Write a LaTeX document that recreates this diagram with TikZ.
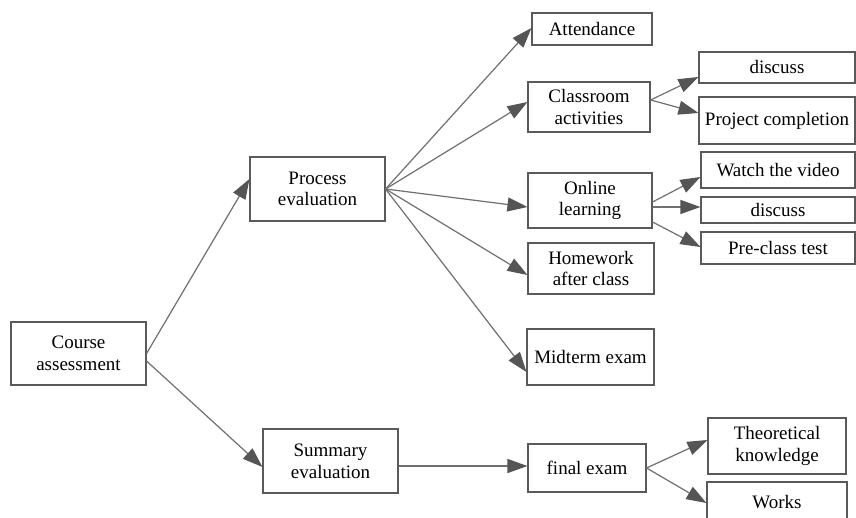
\documentclass[tikz,border=0pt]{standalone}
\usepackage{fontspec}
\setmainfont{Liberation Serif}
\usetikzlibrary{arrows.meta}
\definecolor{boxline}{HTML}{5A5A5A}
\definecolor{arrline}{HTML}{707070}
\definecolor{arrhead}{HTML}{555555}
\tikzset{
  bx/.style={draw=boxline, line width=1.1pt, fill=white, inner sep=0pt, align=center,
    font=\fontsize{19}{21.7}\selectfont},
  conn/.style={draw=arrline, line width=1.2pt,
    -{Triangle[length=20pt,width=14pt,fill=arrhead,color=arrhead]}}
}
\begin{document}
\begin{tikzpicture}[x=1pt,y=-1pt]
\useasboundingbox (0,0) rectangle (856,518);
\fill[white] (0,0) rectangle (856,518);
% nodes
\node[bx, minimum width=135pt, minimum height=63pt] (ca) at (78.5,353.5) {Course\\assessment};
\node[bx, minimum width=135pt, minimum height=64pt] (pe) at (317.5,189) {Process\\evaluation};
\node[bx, minimum width=135pt, minimum height=64pt] (se) at (330.5,461) {Summary\\evaluation};
\node[bx, minimum width=120pt, minimum height=32pt] (att) at (592,29) {Attendance};
\node[bx, minimum width=122pt, minimum height=50pt] (cla) at (589,107) {Classroom\\activities};
\node[bx, minimum width=156pt, minimum height=31pt] (d1) at (777,67.5) {discuss};
\node[bx, minimum width=156pt, minimum height=47pt] (pc) at (777,120.5) {Project completion};
\node[bx, minimum width=124pt, minimum height=55pt] (onl) at (590,200.5) {Online\\learning};
\node[bx, minimum width=154pt, minimum height=36pt] (wv) at (778,170) {Watch the video};
\node[bx, minimum width=154pt, minimum height=26pt] (d2) at (778,210) {discuss};
\node[bx, minimum width=154pt, minimum height=32pt] (pct) at (778,248) {Pre-class test};
\node[bx, minimum width=126pt, minimum height=51pt] (hw) at (591,268.5) {Homework\\after class};
\node[bx, minimum width=127pt, minimum height=56pt] (mid) at (590.5,357) {Midterm exam};
\node[bx, minimum width=118pt, minimum height=48pt] (fe) at (587,468) {final exam};
\node[bx, minimum width=138pt, minimum height=56pt] (tk) at (777,446) {Theoretical\\knowledge};
\node[bx, minimum width=140pt, minimum height=40pt] (wk) at (777,502) {Works};
% connectors
\draw[conn] (ca.east) -- ([yshift=10pt]pe.west);
\draw[conn] ([yshift=-7.5pt]ca.east) -- ([yshift=-6pt]se.west);
\draw[conn] (pe.east) -- ([yshift=1pt]att.west);
\draw[conn] (pe.east) -- ([yshift=5pt]cla.west);
\draw[conn] (pe.east) -- ([yshift=-6.5pt]onl.west);
\draw[conn] (pe.east) -- ([yshift=-6.5pt]hw.west);
\draw[conn] (pe.east) -- ([yshift=-15pt]mid.west);
\draw[conn] ([yshift=7pt]cla.east) -- ([yshift=-9.5pt]d1.west);
\draw[conn] ([yshift=7pt]cla.east) -- ([yshift=7.5pt]pc.west);
\draw[conn] ([yshift=-1.5pt]onl.east) -- ([yshift=-7pt]wv.west);
\draw[conn] ([yshift=-6.5pt]onl.east) -- ([yshift=3pt]d2.west);
\draw[conn] ([yshift=-21.5pt]onl.east) -- ([yshift=1pt]pct.west);
\draw[conn] ([yshift=-5pt]se.east) -- ([yshift=2pt]fe.west);
\draw[conn] (fe.east) -- ([yshift=6pt]tk.west);
\draw[conn] (fe.east) -- ([yshift=-1pt]wk.west);
\end{tikzpicture}
\end{document}
